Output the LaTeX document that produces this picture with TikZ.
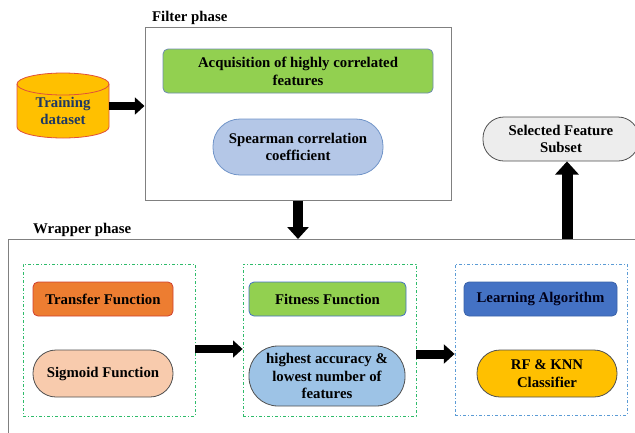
\documentclass[tikz,border=0pt]{standalone}
\usepackage{fontspec}
\setmainfont{Liberation Serif}
\usetikzlibrary{arrows.meta}
\definecolor{cylfill}{HTML}{FFC000}
\definecolor{cyldraw}{HTML}{E0503A}
\definecolor{navytext}{HTML}{1F3864}
\definecolor{acqfill}{HTML}{92D050}
\definecolor{acqdraw}{HTML}{6E8CB0}
\definecolor{spfill}{HTML}{B4C7E7}
\definecolor{spdraw}{HTML}{7094C8}
\definecolor{selfill}{HTML}{EDEDED}
\definecolor{darkline}{HTML}{505050}
\definecolor{trfill}{HTML}{ED7D31}
\definecolor{trdraw}{HTML}{D04030}
\definecolor{sgfill}{HTML}{F8CBAD}
\definecolor{fitdraw}{HTML}{4472C4}
\definecolor{accfill}{HTML}{9DC3E6}
\definecolor{lafill}{HTML}{4472C4}
\definecolor{ladraw}{HTML}{3A62A8}
\definecolor{boxgray}{HTML}{808080}
\definecolor{dgreen}{HTML}{2EBB6A}
\definecolor{dblue}{HTML}{5B9BD5}
\begin{document}
\begin{tikzpicture}[x=1pt,y=-1pt,
  every node/.style={font=\fontsize{14.8}{17.8}\selectfont\bfseries, align=center, inner sep=0pt},
  phasebox/.style={draw=boxgray, line width=1pt, fill=none},
  groupbox/.style={line width=0.8pt, dash pattern=on 3pt off 2pt on 1pt off 2pt},
  rbox/.style={rectangle, rounded corners=5pt, line width=0.8pt},
  pill/.style={rectangle, line width=0.8pt},
  bigarrow/.style={line width=#1, -{Triangle[width=2.1*#1, length=1.2*#1]}},
]
\useasboundingbox (0,0) rectangle (635,432);
\clip (0,0) rectangle (635,432);

% Training dataset cylinder
\node[minimum width=92pt, minimum height=54pt] (train) at (63,111) {};
\filldraw[fill=cylfill, draw=cyldraw, line width=0.8pt]
  (17,84) -- (17,127) arc[start angle=180, end angle=360, x radius=46, y radius=-11]
  -- (109,84) arc[start angle=0, end angle=180, x radius=46, y radius=-11] -- cycle;
\draw[cyldraw, line width=0.8pt] (17,84) arc[start angle=180, end angle=360, x radius=46, y radius=-11];
\node[text=navytext] (traintext) at (63,111) {Training\\dataset};

% Filter phase
\node[phasebox, minimum width=306pt, minimum height=173pt] (filter) at (298,113.5) {};
\node[anchor=base west] (filterlbl) at (152,21) {Filter phase};
\node[rbox, fill=acqfill, draw=acqdraw, minimum width=270pt, minimum height=44pt] (acq) at (298,71) {Acquisition of highly correlated\\features};
\node[pill, rounded corners=27pt, fill=spfill, draw=spdraw, minimum width=170pt, minimum height=56pt] (spear) at (298,147) {Spearman correlation\\coefficient};

% Selected feature subset
\node[pill, rounded corners=21pt, fill=selfill, draw=darkline, minimum width=156pt, minimum height=44pt] (sel) at (561,139) {Selected Feature\\Subset};

% Wrapper phase
\node[phasebox, minimum width=637pt, minimum height=206pt, anchor=north west] (wrapper) at (8,239) {};
\node[anchor=base west] (wraplbl) at (33,233) {Wrapper phase};

\node[groupbox, draw=dgreen, minimum width=172pt, minimum height=152pt] (box1) at (109,340) {};
\node[rbox, fill=trfill, draw=trdraw, minimum width=140pt, minimum height=34pt] (transfer) at (103,299) {Transfer Function};
\node[pill, rounded corners=23pt, fill=sgfill, draw=darkline, minimum width=140pt, minimum height=47pt] (sigmoid) at (103,373.5) {Sigmoid Function};

\node[groupbox, draw=dgreen, minimum width=173pt, minimum height=152pt] (box2) at (329.5,340) {};
\node[rbox, fill=acqfill, draw=fitdraw, minimum width=157pt, minimum height=34pt] (fitness) at (327.5,299) {Fitness Function};
\node[pill, rounded corners=29pt, fill=accfill, draw=darkline, minimum width=156pt, minimum height=60pt] (acc) at (327,376) {highest accuracy \&\\lowest number of\\features};

\node[groupbox, draw=dblue, minimum width=172pt, minimum height=151pt] (box3) at (541,339.5) {};
\node[rbox, fill=lafill, draw=ladraw, minimum width=153pt, minimum height=34pt, text=black!90!blue] (learn) at (540.5,299) {Learning Algorithm};
\node[pill, rounded corners=23pt, fill=cylfill, draw=darkline, minimum width=140pt, minimum height=47pt] (rf) at (547,373.5) {RF \& KNN\\Classifier};

% Arrows
\coordinate (tA) at ([yshift=5pt]train.east);
\draw[bigarrow=8pt] (tA) -- (tA -| filter.west);
\draw[bigarrow=10pt] (filter.south) -- (filter.south |- wrapper.north);
\coordinate (upbase) at (567,239);
\draw[bigarrow=11pt] (upbase) -- (upbase |- sel.south);
\coordinate (a1) at ([yshift=-9pt]box1.east);
\draw[bigarrow=8pt] (a1) -- (a1 -| box2.west);
\coordinate (a2) at ([yshift=-14pt]box2.east);
\draw[bigarrow=9pt] (a2) -- (a2 -| box3.west);
\end{tikzpicture}
\end{document}
